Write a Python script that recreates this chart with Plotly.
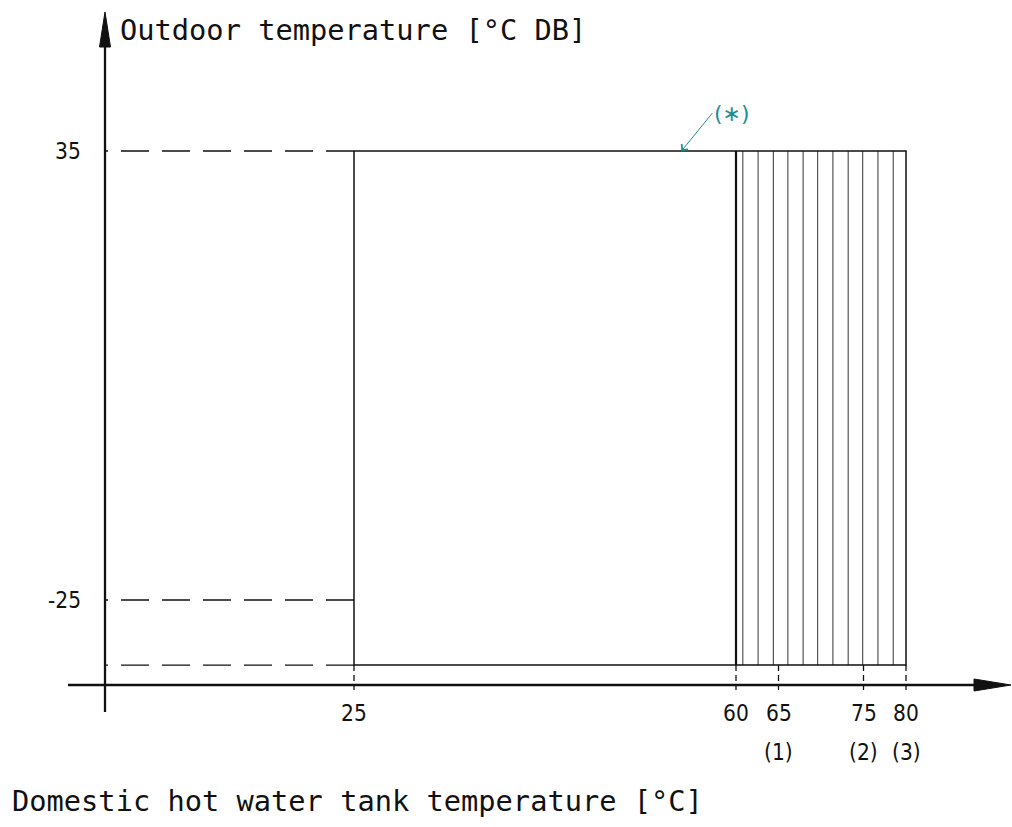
import plotly.graph_objects as go

# ---------------- data ----------------
x_tick_values = [25, 60, 65, 75, 80]
x_tick_labels = ["25", "60", "65", "75", "80"]
x_notes_at = [65, 75, 80]
x_notes = ["(1)", "(2)", "(3)"]
y_tick_values = [35, -25]
y_tick_labels = ["35", "-25"]
y_box_bottom = -33.7          # lower limit of the operating area (unlabelled)
x_box_left = 25
x_box_right = 80
x_hatch_start = 60
hatch_lines = [60, 60.8, 62.6, 64.4, 66.1, 67.9, 69.6, 71.4, 73.2, 74.9, 76.7, 78.5, 80]
note_star_x = 55.0            # where the (*) pointer touches the upper limit

y_title = "Outdoor temperature [°C DB]"
x_title = "Domestic hot water tank temperature [°C]"

# ---------------- schematic scale ----------------
# the diagram is not to scale below 60 °C: compress that part
PX_PER_UNIT_X = 8.5
LOW_FACTOR = (382 / 35) / PX_PER_UNIT_X


def xpos(t):
    return t if t >= 60 else 60 - (60 - t) * LOW_FACTOR


X_RANGE = [60 - 736 / 8.5, 60 + 276 / 8.5]
PX_PER_UNIT_Y = 449 / 60
Y_RANGE = [35 - 676 / PX_PER_UNIT_Y, 35 + 151 / PX_PER_UNIT_Y]


def dx(px):
    return px / PX_PER_UNIT_X


def dy(px):
    return px / PX_PER_UNIT_Y


x_origin = xpos(60) - dx(736 - 105)
y_origin = 35 - dy(685 - 151)

BLACK = "#111111"
TEAL = "#1f8f8f"
TICK_FONT = dict(family="Liberation Sans Narrow, DejaVu Sans Condensed, Arial", size=22.5, color=BLACK)
TITLE_FONT = dict(family="DejaVu Sans Mono, Liberation Mono, monospace", size=28.7, color=BLACK)

fig = go.Figure()


def line(xs, ys, width=1.5, color=BLACK, dash=None):
    fig.add_trace(go.Scatter(x=xs, y=ys, mode="lines", hoverinfo="skip", showlegend=False,
                             line=dict(color=color, width=width, dash=dash)))


# axes
line([x_origin - dx(37), xpos(80) + dx(974 - 906)], [y_origin, y_origin], width=2.3)
line([x_origin, x_origin], [y_origin - dy(27), 35 + dy(151 - 47)], width=2.3)
# arrow heads
fig.add_trace(go.Scatter(
    x=[x_origin - dx(5.5), x_origin + dx(5.5), x_origin, x_origin - dx(5.5)],
    y=[35 + dy(151 - 47), 35 + dy(151 - 47), 35 + dy(151 - 12), 35 + dy(151 - 47)],
    mode="lines", fill="toself", fillcolor=BLACK, line=dict(color=BLACK, width=1),
    hoverinfo="skip", showlegend=False))
fig.add_trace(go.Scatter(
    x=[xpos(80) + dx(974 - 906), xpos(80) + dx(974 - 906), xpos(80) + dx(1011 - 906), xpos(80) + dx(974 - 906)],
    y=[y_origin - dy(6), y_origin + dy(6), y_origin, y_origin - dy(6)],
    mode="lines", fill="toself", fillcolor=BLACK, line=dict(color=BLACK, width=1),
    hoverinfo="skip", showlegend=False))

# dashed reference lines from the y axis
for yv in y_tick_values + [y_box_bottom]:
    line([xpos(x_box_left), x_origin], [yv, yv], width=1.3, dash="28px,13px")

# short dashed extension lines down to the x axis
for xv in x_tick_values:
    line([xpos(xv), xpos(xv)], [y_box_bottom, y_origin - dy(5)], width=1.3, dash="6px,4px")

# hatched high temperature zone
for hv in hatch_lines:
    if hv == x_hatch_start:
        line([xpos(hv), xpos(hv)], [y_box_bottom, 35], width=2.2)
    elif hv == x_box_right:
        continue
    else:
        line([xpos(hv), xpos(hv)], [y_box_bottom, 35], width=1.2, color="#555555")

# operating area outline
line([xpos(x_box_left), xpos(x_box_right), xpos(x_box_right), xpos(x_box_left), xpos(x_box_left)],
     [35, 35, y_box_bottom, y_box_bottom, 35], width=1.5)

annotations = []
for v, t in zip(y_tick_values, y_tick_labels):
    annotations.append(dict(x=x_origin, y=v, text=t, showarrow=False, xanchor="right",
                            yanchor="middle", xshift=-22, font=TICK_FONT))
for v, t in zip(x_tick_values, x_tick_labels):
    annotations.append(dict(x=xpos(v), y=y_origin, text=t, showarrow=False, xanchor="center",
                            yanchor="middle", yshift=-28, font=TICK_FONT))
for v, t in zip(x_notes_at, x_notes):
    annotations.append(dict(x=xpos(v), y=y_origin, text=t, showarrow=False, xanchor="center",
                            yanchor="middle", yshift=-67, font=TICK_FONT))

# (*) note
annotations.append(dict(x=xpos(note_star_x), y=35, ax=xpos(note_star_x) + dx(31), ay=35 + dy(38),
                        axref="x", ayref="y", text="(∗)", showarrow=True, arrowhead=4,
                        arrowsize=1.6, arrowwidth=1, arrowcolor=TEAL, xanchor="left",
                        yanchor="middle",
                        font=dict(family="DejaVu Sans, sans-serif", size=22, color=TEAL)))

annotations.append(dict(xref="paper", yref="paper", x=118 / 1012, y=1 - 30 / 827, text=y_title,
                        showarrow=False, xanchor="left", yanchor="middle", font=TITLE_FONT))
annotations.append(dict(xref="paper", yref="paper", x=10 / 1012, y=1 - 801 / 827, text=x_title,
                        showarrow=False, xanchor="left", yanchor="middle", font=TITLE_FONT))

fig.update_layout(
    width=1012, height=827,
    margin=dict(l=0, r=0, t=0, b=0),
    paper_bgcolor="white", plot_bgcolor="white",
    xaxis=dict(range=X_RANGE, visible=False, fixedrange=True),
    yaxis=dict(range=Y_RANGE, visible=False, fixedrange=True),
    annotations=annotations,
    showlegend=False,
)

fig.write_html("out.html", config={"displayModeBar": False},
               post_script="document.body.style.margin='0px';document.body.style.overflow='hidden';")
